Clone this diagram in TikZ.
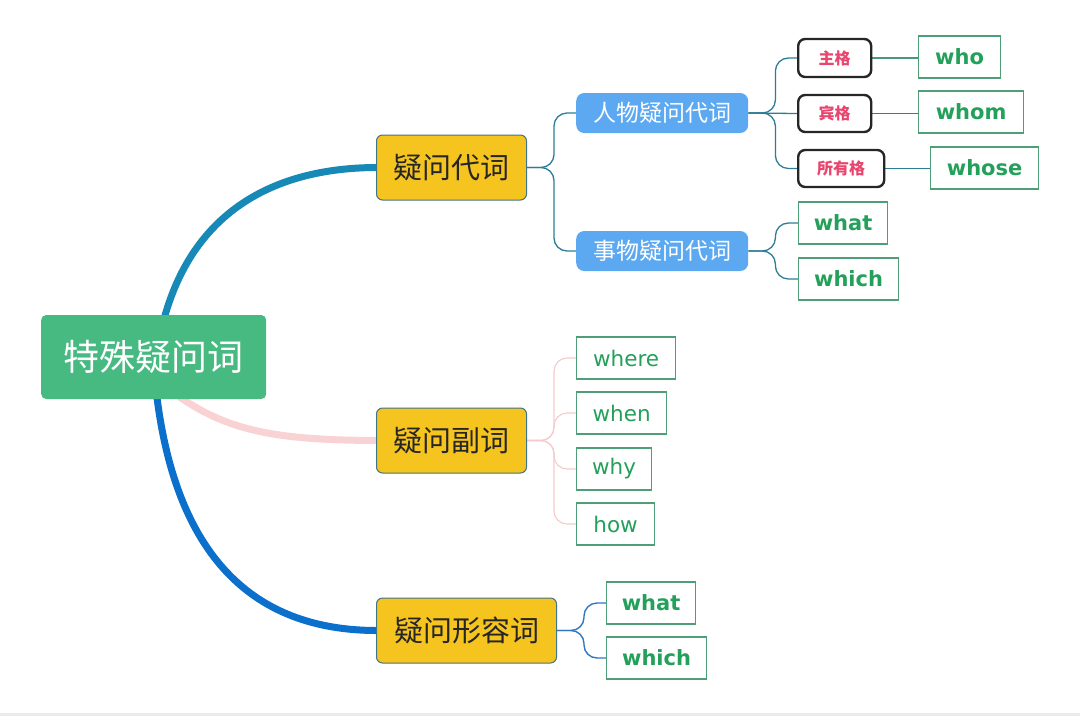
\documentclass[tikz,border=0pt]{standalone}
\usepackage{fontspec}
\newfontfamily\cjk{Noto Sans CJK SC}
\newfontfamily\en{DejaVu Sans}
\usetikzlibrary{backgrounds}
\definecolor{rootg}{HTML}{47BA82}
\definecolor{yel}{HTML}{F6C41E}
\definecolor{yelb}{HTML}{3F7587}
\definecolor{blu}{HTML}{5CA9F2}
\definecolor{gtxt}{HTML}{23A05A}
\definecolor{gbord}{HTML}{4E9F78}
\definecolor{rtxt}{HTML}{E8466F}
\definecolor{tealc}{HTML}{2E7C96}
\definecolor{thick1}{HTML}{1789B6}
\definecolor{thick2}{HTML}{0B6FCC}
\definecolor{pinkc}{HTML}{F9D2D3}
\definecolor{pinkt}{HTML}{F6C9CD}
\definecolor{bluet}{HTML}{2F77C6}
\tikzset{
  rootbox/.style={fill=rootg, rounded corners=5pt, text=white, inner sep=0pt,
    font=\cjk\fontsize{36}{40}\selectfont},
  yelbox/.style={fill=yel, draw=yelb, line width=1pt, rounded corners=6pt, inner sep=0pt,
    text=black!85, font=\cjk\fontsize{29}{32}\selectfont},
  blubox/.style={fill=blu, rounded corners=8pt, text=white, inner sep=0pt,
    font=\cjk\fontsize{23}{26}\selectfont},
  casebox/.style={fill=white, draw=black!85, line width=2.4pt, rounded corners=7pt, inner sep=0pt,
    text=rtxt, font=\cjk\bfseries\fontsize{16}{18}\selectfont},
  wbold/.style={fill=white, draw=gbord, line width=1.2pt, inner sep=0pt,
    text=gtxt, font=\en\bfseries\fontsize{21}{24}\selectfont},
  wreg/.style={fill=white, draw=gbord, line width=1.2pt, inner sep=0pt,
    text=gtxt, font=\en\fontsize{21.5}{24}\selectfont},
  thin/.style={draw=tealc, line width=1.3pt, rounded corners=13pt},
  pinkthin/.style={draw=pinkt, line width=1.1pt, rounded corners=13pt},
  bluethin/.style={draw=bluet, line width=1.4pt, rounded corners=13pt},
  thickline/.style={line width=7pt, line cap=round},
}
\begin{document}
\begin{tikzpicture}[x=1pt,y=-1pt]
\useasboundingbox (0,0) rectangle (1080,716);
\fill[black!8] (0,713) rectangle (1080,716);

% nodes
\node[rootbox, minimum width=225pt, minimum height=84pt, anchor=west] (root) at (41,357) {特殊疑问词};
\node[yelbox, minimum width=150pt, minimum height=65pt, anchor=west] (dz) at (376,167.5) {疑问代词};
\node[yelbox, minimum width=150pt, minimum height=65pt, anchor=west] (fc) at (376,440.5) {疑问副词};
\node[yelbox, minimum width=180pt, minimum height=65pt, anchor=west] (xr) at (376,630.5) {疑问形容词};

\node[blubox, minimum width=172pt, minimum height=40pt, anchor=west] (rw) at (576,113) {人物疑问代词};
\node[blubox, minimum width=172pt, minimum height=40pt, anchor=west] (sw) at (576,251) {事物疑问代词};

\node[casebox, minimum width=73pt, minimum height=38pt, anchor=west] (zg) at (797,58) {主格};
\node[casebox, minimum width=73pt, minimum height=37pt, anchor=west] (bg) at (797,113.5) {宾格};
\node[casebox, minimum width=86pt, minimum height=37pt, anchor=west] (sy) at (797,168.5) {所有格};

\node[wbold, minimum width=82pt, minimum height=42pt, anchor=west] (who) at (918,57) {who};
\node[wbold, minimum width=105pt, minimum height=42pt, anchor=west] (whom) at (918,112) {whom};
\node[wbold, minimum width=108pt, minimum height=42pt, anchor=west] (whose) at (930,168) {whose};
\node[wbold, minimum width=89pt, minimum height=42pt, anchor=west] (what1) at (798,223) {what};
\node[wbold, minimum width=100pt, minimum height=42pt, anchor=west] (which1) at (798,279) {which};

\node[wreg, minimum width=99pt, minimum height=42pt, anchor=west] (where) at (576,358) {where};
\node[wreg, minimum width=90pt, minimum height=42pt, anchor=west] (when) at (576,413) {when};
\node[wreg, minimum width=75pt, minimum height=42pt, anchor=west] (why) at (576,469) {why};
\node[wreg, minimum width=78pt, minimum height=42pt, anchor=west] (how) at (576,524) {how};

\node[wbold, minimum width=89pt, minimum height=42pt, anchor=west] (what2) at (606,603) {what};
\node[wbold, minimum width=100pt, minimum height=42pt, anchor=west] (which2) at (606,658) {which};

\begin{scope}[on background layer]
  % thick main branches
  \draw[thickline, thick1] (root.center) ++(6,-20) .. controls (185,215) and (270,168) .. (dz.west);
  \draw[thickline, thick2] (root.center) ++(1,20) .. controls (170,540) and (240,630) .. (xr.west);
  \draw[thickline, pinkc] (root.center) ++(26,40) .. controls (230,432) and (280,440) .. (fc.west);

  % 疑问代词 branches
  \draw[thin] (dz.east) -- ++(27,0) |- (rw.west);
  \draw[thin] (dz.east) -- ++(27,0) |- (sw.west);
  % 人物疑问代词 branches
  \draw[thin] (rw.east) -- ++(27,0) |- (zg.west);
  \draw[thin] (rw.east) -- (bg.west);
  \draw[thin] (rw.east) -- ++(27,0) |- (sy.west);
  \draw[thin, draw=gbord!80!tealc] (zg.east) -- (zg.east -| who.west);
  \draw[thin] (bg.east) -- (bg.east -| whom.west);
  \draw[thin] (sy.east) -- (sy.east -| whose.west);
  % 事物疑问代词 branches
  \draw[thin] (sw.east) -- ++(27,0) |- (what1.west);
  \draw[thin] (sw.east) -- ++(27,0) |- (which1.west);
  % 疑问副词 branches
  \draw[pinkthin] (fc.east) -- ++(27,0) |- (where.west);
  \draw[pinkthin] (fc.east) -- ++(27,0) |- (when.west);
  \draw[pinkthin] (fc.east) -- ++(27,0) |- (why.west);
  \draw[pinkthin] (fc.east) -- ++(27,0) |- (how.west);
  % 疑问形容词 branches
  \draw[bluethin] (xr.east) -- ++(27,0) |- (what2.west);
  \draw[bluethin] (xr.east) -- ++(27,0) |- (which2.west);
\end{scope}
\end{tikzpicture}
\end{document}
